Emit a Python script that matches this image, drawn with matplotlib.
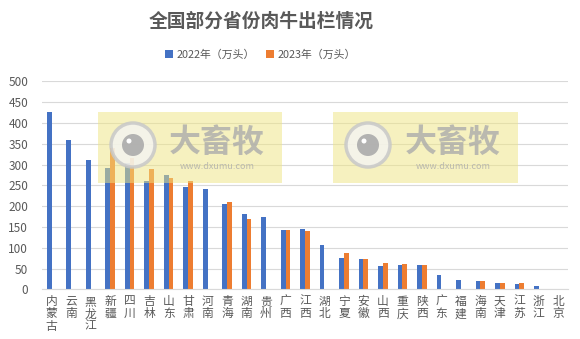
import numpy as np
import matplotlib.pyplot as plt
from matplotlib.patches import Rectangle, Ellipse

plt.rcParams['font.family'] = ['Noto Sans CJK SC', 'DejaVu Sans']

provinces = ['内蒙古', '云南', '黑龙江', '新疆', '四川', '吉林', '山东', '甘肃', '河南',
             '青海', '湖南', '贵州', '广西', '江西', '湖北', '宁夏', '安徽', '山西',
             '重庆', '陕西', '广东', '福建', '海南', '天津', '江苏', '浙江', '北京']
v2022 = [427, 360, 312, 292, 304, 261, 275, 246, 241, 205, 181, 174, 143, 145, 106,
         75, 73, 56, 58, 58, 34, 22, 20, 15, 12, 8, 0]
v2023 = [0, 0, 0, 340, 316, 290, 268, 260, 0, 210, 169, 0, 143, 140, 0,
         87, 73, 63, 61, 58, 0, 0, 20, 15, 15, 0, 0]
yticks = [0, 50, 100, 150, 200, 250, 300, 350, 400, 450, 500]

blue = '#4472C4'
orange = '#ED7D31'
grey = '#595959'

fig = plt.figure(figsize=(5.8, 3.39), dpi=100)
ax = fig.add_axes([0.0724, 0.1466, 0.9069, 0.613])

x = np.arange(len(provinces))
w = 0.245
ax.bar(x - w / 2, v2022, w, color=blue, label='2022年（万头）', zorder=2)
ax.bar(x + w / 2, v2023, w, color=orange, label='2023年（万头）', zorder=2)

ax.set_xlim(-0.5, len(provinces) - 0.5)
ax.set_ylim(0, 500)
ax.set_yticks(yticks)
ax.yaxis.grid(True, color='#D9D9D9', linewidth=0.8, zorder=0)
ax.set_axisbelow(True)
for s in ['top', 'right', 'left']:
    ax.spines[s].set_visible(False)
ax.spines['bottom'].set_color('#D9D9D9')
ax.tick_params(axis='both', length=0, colors=grey, labelsize=8.5)
ax.tick_params(axis='y', pad=10)
ax.set_xticks(x)
ax.set_xticklabels(['\n'.join(p) for p in provinces], linespacing=0.95, va='top')
ax.tick_params(axis='x', pad=4)

fig.text(0.45, 0.938, '全国部分省份肉牛出栏情况', ha='center', va='center',
         fontsize=13.5, fontweight='bold', color=grey)
fig.legend(loc='center', bbox_to_anchor=(0.449, 0.838), ncol=2, frameon=False,
           fontsize=7.8, handlelength=0.75, handleheight=0.75, handletextpad=0.3,
           columnspacing=1.0, labelcolor=grey)

# watermark
W, H = 580.0, 339.0
for (x0, x1, cx, tx) in [(98, 282, 133, 217), (333, 518, 368, 453)]:
    fig.patches.append(Rectangle((x0 / W, 1 - 183 / H), (x1 - x0) / W, 71 / H,
                                 transform=fig.transFigure, facecolor='#EFE581',
                                 alpha=0.5, edgecolor='none', zorder=5))
    cy = 1 - 145 / H
    fig.patches.append(Ellipse((cx / W, cy), 44 / W, 44 / H, transform=fig.transFigure,
                               facecolor='#F4F4F0', edgecolor='#C8C8C8', linewidth=2.5,
                               alpha=0.85, zorder=6))
    fig.patches.append(Ellipse((cx / W, cy), 22 / W, 22 / H, transform=fig.transFigure,
                               facecolor='#ABABAB', edgecolor='none', alpha=0.9, zorder=7))
    fig.patches.append(Ellipse(((cx - 4) / W, cy + 4 / H), 5 / W, 5 / H,
                               transform=fig.transFigure, facecolor='white',
                               edgecolor='none', zorder=8))
    fig.text(tx / W, 1 - 143 / H, '大畜牧', ha='center', va='center', fontsize=23,
             fontweight='bold', color='#ABABAB', alpha=0.8, zorder=6)
    fig.text(tx / W, 1 - 167 / H, 'www.dxumu.com', ha='center', va='center', fontsize=6.5,
             color='#ABABAB', alpha=0.8, zorder=6)

fig.savefig('out.png', dpi=100)
